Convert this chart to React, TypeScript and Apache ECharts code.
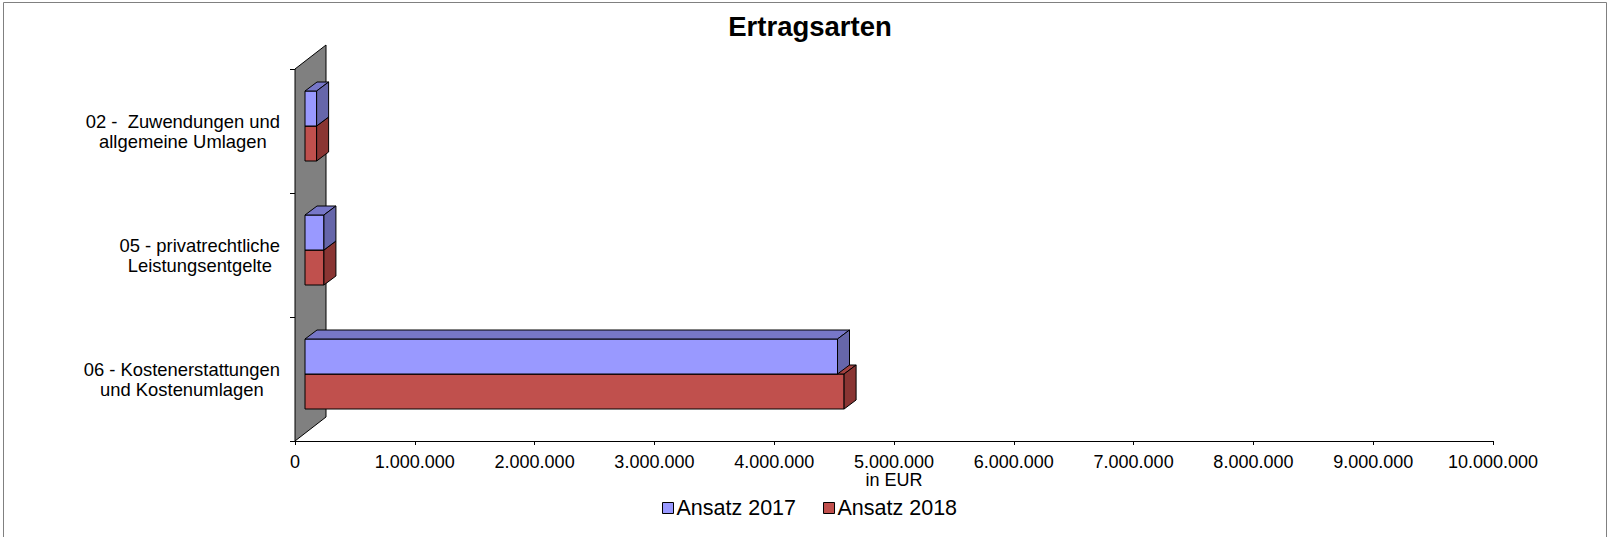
import React, { useEffect, useRef } from "react";
import * as echarts from "echarts";

const categories = [
  "02 -  Zuwendungen und\nallgemeine Umlagen",
  "05 - privatrechtliche\nLeistungsentgelte",
  "06 - Kostenerstattungen\nund Kostenumlagen",
];
const series2017 = [97000, 158000, 4445000];
const series2018 = [97000, 158000, 4500000];
const seriesNames = ["Ansatz 2017", "Ansatz 2018"];
const xTicks = { min: 0, max: 10000000, interval: 1000000 };

const FONT = "'Liberation Sans', Arial, Helvetica, sans-serif";

const BAR_OFF_X = 10;
const BAR_OFF_Y = -5;
const BAR_DX = 12;
const BAR_DY = -9;
const BAR_FRAC = 35 / 124;
const WALL_DX = 31;
const WALL_DY = -24;

const fmt = (v: number) => String(Math.round(v)).replace(/\B(?=(\d{3})+(?!\d))/g, ".");

function boxRenderer(front: string, top: string, side: string, upper: boolean) {
  return (params: any, api: any) => {
    const v = api.value(0);
    const c = api.value(1);
    const p0 = api.coord([0, c]);
    const p1 = api.coord([v, c]);
    const band = api.size([0, 1])[1];
    const h = band * BAR_FRAC;
    const y0 = upper ? p0[1] - h + BAR_OFF_Y : p0[1] + BAR_OFF_Y;
    const y1 = y0 + h;
    const x0 = p0[0] + BAR_OFF_X;
    const x1 = p1[0] + BAR_OFF_X;
    const stroke = { stroke: "#000", lineWidth: 1, lineJoin: "round" };
    return {
      type: "group",
      children: [
        {
          type: "polygon",
          shape: { points: [[x0, y0], [x1, y0], [x1, y1], [x0, y1]] },
          style: { fill: front, ...stroke },
        },
        {
          type: "polygon",
          shape: {
            points: [
              [x0, y0],
              [x1, y0],
              [x1 + BAR_DX, y0 + BAR_DY],
              [x0 + BAR_DX, y0 + BAR_DY],
            ],
          },
          style: { fill: top, ...stroke },
        },
        {
          type: "polygon",
          shape: {
            points: [
              [x1, y0],
              [x1 + BAR_DX, y0 + BAR_DY],
              [x1 + BAR_DX, y1 + BAR_DY],
              [x1, y1],
            ],
          },
          style: { fill: side, ...stroke },
        },
      ],
    };
  };
}

export default function App() {
  const ref = useRef<HTMLDivElement>(null);
  useEffect(() => {
    if (!ref.current) return;
    const chart = echarts.init(ref.current, undefined, { renderer: "svg" });
    const option: any = {
      animation: false,
      backgroundColor: "#fff",
      textStyle: { fontFamily: FONT },
      title: {
        text: "Ertragsarten",
        left: 810,
        textAlign: "center",
        top: 12,
        padding: 0,
        textStyle: { fontFamily: FONT, fontSize: 27.5, fontWeight: "bold", color: "#000" },
      },
      graphic: [
        {
          type: "rect",
          shape: { x: 3.5, y: 2.5, width: 1603, height: 545 },
          style: { fill: "none", stroke: "#808080", lineWidth: 1 },
          silent: true,
        },
      ],
      legend: {
        left: 662,
        top: 497,
        padding: 0,
        itemWidth: 11,
        itemHeight: 11,
        itemGap: 27,
        icon: "rect",
        textStyle: { fontFamily: FONT, fontSize: 21.5, color: "#000", padding: [0, 0, 0, -2] },
        data: [
          { name: seriesNames[0], itemStyle: { color: "#9999FF", borderColor: "#000", borderWidth: 1 } },
          { name: seriesNames[1], itemStyle: { color: "#C0504D", borderColor: "#000", borderWidth: 1 } },
        ],
      },
      grid: { left: 295, top: 69, right: 114, bottom: 96, containLabel: false },
      xAxis: {
        type: "value",
        min: xTicks.min,
        max: xTicks.max,
        interval: xTicks.interval,
        name: "in EUR",
        nameLocation: "middle",
        nameGap: 30,
        nameMoveOverlap: false,
        nameTextStyle: { fontFamily: FONT, fontSize: 18, color: "#000" },
        axisLine: { show: true, lineStyle: { color: "#000", width: 1 } },
        axisTick: { show: true, length: 4, lineStyle: { color: "#000" } },
        axisLabel: {
          margin: 12,
          fontFamily: FONT,
          fontSize: 18,
          color: "#000",
          formatter: (v: number) => fmt(v),
        },
        splitLine: { show: false },
      },
      yAxis: {
        type: "category",
        inverse: true,
        data: categories,
        axisLine: { show: true, lineStyle: { color: "#000", width: 1 } },
        axisTick: { show: true, length: 5, lineStyle: { color: "#000" } },
        axisLabel: {
          margin: 15,
          fontFamily: FONT,
          fontSize: 18.4,
          color: "#000",
          lineHeight: 20,
          formatter: (v: string) =>
            v
              .split("\n")
              .map((l) => "{c|" + l + "}")
              .join("\n"),
          rich: {
            c: { align: "center", fontFamily: FONT, fontSize: 18.4, lineHeight: 20, color: "#000" },
          },
        },
        splitLine: { show: false },
      },
      series: [
        {
          type: "custom",
          name: "wall",
          silent: true,
          z: 1,
          data: [[0, 0]],
          encode: { x: 0, y: 1 },
          renderItem: (params: any) => {
            const cs = params.coordSys;
            const x = cs.x;
            const y = cs.y;
            const h = cs.height;
            return {
              type: "polygon",
              shape: {
                points: [
                  [x, y + h],
                  [x, y],
                  [x + WALL_DX, y + WALL_DY],
                  [x + WALL_DX, y + h + WALL_DY],
                ],
              },
              style: { fill: "#808080", stroke: "#000", lineWidth: 1 },
            };
          },
        },
        {
          type: "custom",
          name: seriesNames[1],
          z: 2,
          itemStyle: { color: "#C0504D", borderColor: "#000", borderWidth: 1 },
          data: series2018.map((v, i) => [v, i]),
          encode: { x: 0, y: 1 },
          renderItem: boxRenderer("#C0504D", "#A3413F", "#8A3533", false),
        },
        {
          type: "custom",
          name: seriesNames[0],
          z: 3,
          itemStyle: { color: "#9999FF", borderColor: "#000", borderWidth: 1 },
          data: series2017.map((v, i) => [v, i]),
          encode: { x: 0, y: 1 },
          renderItem: boxRenderer("#9999FF", "#7777C8", "#6666AA", true),
        },
      ],
    };
    chart.setOption(option);
    return () => chart.dispose();
  }, []);
  return (
    <div
      ref={ref}
      style={{ position: "fixed", left: 0, top: 0, width: 1607, height: 537, background: "#fff" }}
    />
  );
}
